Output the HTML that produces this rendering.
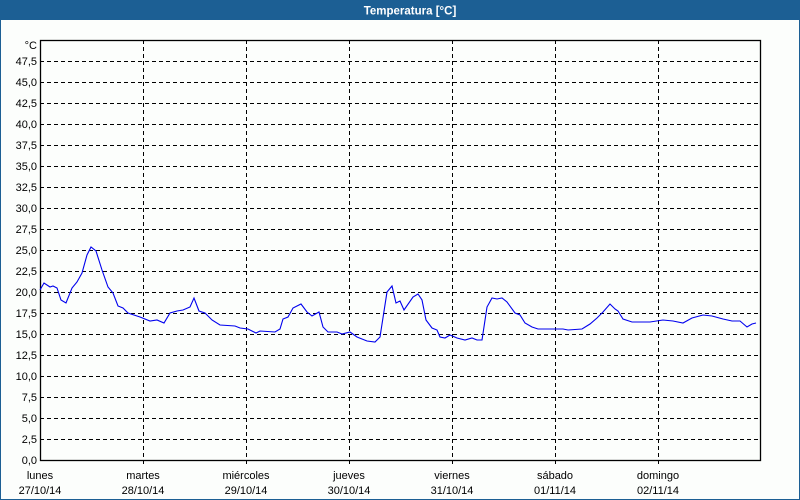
<!DOCTYPE html>
<html><head><meta charset="utf-8"><style>
html,body{margin:0;padding:0;width:800px;height:500px;overflow:hidden;background:#fdfefd;}
</style></head><body>
<svg width="800" height="500" xmlns="http://www.w3.org/2000/svg" font-family="Liberation Sans, sans-serif" font-size="11">
<rect x="0" y="0" width="800" height="500" fill="#fcfefc"/>
<rect x="0.5" y="0.5" width="799" height="499" fill="none" stroke="#1c5f94" stroke-width="1"/>
<rect x="0" y="0" width="800" height="20" fill="#1c5f94"/>
<text x="410" y="14.5" fill="#fff" font-weight="bold" text-anchor="middle" font-size="11.5">Temperatura [°C]</text>
<g stroke="#000" stroke-dasharray="4,3" stroke-width="1">
<path d="M40 61.5H760M40 82.5H760M40 103.5H760M40 124.5H760M40 145.5H760M40 166.5H760M40 187.5H760M40 208.5H760M40 229.5H760M40 250.5H760M40 271.5H760M40 292.5H760M40 313.5H760M40 334.5H760M40 355.5H760M40 376.5H760M40 397.5H760M40 418.5H760M40 439.5H760"/>
<path d="M143.5 40V465M246.5 40V465M349.5 40V465M452.5 40V465M555.5 40V465M658.5 40V465"/>
</g>
<rect x="40.5" y="40.5" width="720" height="420" fill="none" stroke="#000" stroke-width="1.3"/>
<g fill="#000" text-anchor="end">
<text x="37" y="49">°C</text>
<text x="37" y="65">47,5</text><text x="37" y="86">45,0</text><text x="37" y="107">42,5</text><text x="37" y="128">40,0</text><text x="37" y="149">37,5</text><text x="37" y="170">35,0</text><text x="37" y="191">32,5</text><text x="37" y="212">30,0</text><text x="37" y="233">27,5</text><text x="37" y="254">25,0</text><text x="37" y="275">22,5</text><text x="37" y="296">20,0</text><text x="37" y="317">17,5</text><text x="37" y="338">15,0</text><text x="37" y="359">12,5</text><text x="37" y="380">10,0</text><text x="37" y="401">7,5</text><text x="37" y="422">5,0</text><text x="37" y="443">2,5</text><text x="37" y="464">0,0</text>
</g>
<g fill="#000" text-anchor="middle">
<text x="40" y="479">lunes</text><text x="40" y="494">27/10/14</text>
<text x="143" y="479">martes</text><text x="143" y="494">28/10/14</text>
<text x="246" y="479">miércoles</text><text x="246" y="494">29/10/14</text>
<text x="349" y="479">jueves</text><text x="349" y="494">30/10/14</text>
<text x="452" y="479">viernes</text><text x="452" y="494">31/10/14</text>
<text x="555" y="479">sábado</text><text x="555" y="494">01/11/14</text>
<text x="658" y="479">domingo</text><text x="658" y="494">02/11/14</text>
</g>
<polyline fill="none" stroke="#0000ee" stroke-width="1.1" points="40,290 44,283 50,287 53,286 57,288 61,300 66,303 72,288 77,282 82,273 87,255 91,247 96,251 102,270 108,287 113,293 118,306 123,308 128,313 140,317 150,321 157,320 164,323 170,313 177,311 183,310 190,307 194,298 199,311 205,313 212,320 220,325 235,326 240,328 248,329 256,333 260,331 275,332 280,329 283,319 288,317 293,308 301,304 307,312 312,316 319,312 323,327 328,332 337,332 342,334 350,332 357,337 367,341 375,342 380,337 387,292 392,286 396,303 400,301 404,310 413,297 418,294 422,300 426,320 432,328 437,330 440,337 445,338 450,335 457,338 465,340 472,338 477,340 482,340 487,307 492,298 497,299 502,298 507,302 515,313 520,315 525,323 532,327 538,329 563,329 568,330 582,329 590,324 597,318 603,312 610,304 615,309 618,311 623,319 632,322 650,322 663,320 673,321 683,323 692,318 703,315 712,316 723,319 732,321 740,321 747,327 752,324 756,323"/>
</svg>
</body></html>
